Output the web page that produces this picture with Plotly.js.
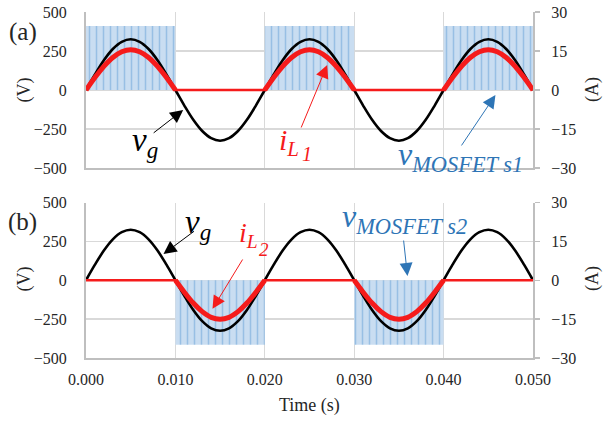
<!DOCTYPE html>
<html>
<head>
<meta charset="utf-8">
<script src="https://cdn.plot.ly/plotly-3.0.1.min.js"></script>
<style>html,body{margin:0;padding:0;background:#fff;}#chart{width:603px;height:421px;}</style>
</head>
<body>
<div id="chart"></div>
<script>
// ---- data ----
const timeS = [0.000,0.001,0.002,0.003,0.004,0.005,0.006,0.007,0.008,0.009,
  0.010,0.011,0.012,0.013,0.014,0.015,0.016,0.017,0.018,0.019,
  0.020,0.021,0.022,0.023,0.024,0.025,0.026,0.027,0.028,0.029,
  0.030,0.031,0.032,0.033,0.034,0.035,0.036,0.037,0.038,0.039,
  0.040,0.041,0.042,0.043,0.044,0.045,0.046,0.047,0.048,0.049,0.050];
// grid voltage vg (V)
const vgV = [0,100,191,263,309,325,309,263,191,100,
  0,-100,-191,-263,-309,-325,-309,-263,-191,-100,
  0,100,191,263,309,325,309,263,191,100,
  0,-100,-191,-263,-309,-325,-309,-263,-191,-100,
  0,100,191,263,309,325,309,263,191,100,0];
// inductor current iL1 (A)
const iL1A = [0,4.8,9.1,12.5,14.7,15.5,14.7,12.5,9.1,4.8,
  0,0,0,0,0,0,0,0,0,0,
  0,4.8,9.1,12.5,14.7,15.5,14.7,12.5,9.1,4.8,
  0,0,0,0,0,0,0,0,0,0,
  0,4.8,9.1,12.5,14.7,15.5,14.7,12.5,9.1,4.8,0];
// inductor current iL2 (A)
const iL2A = [0,0,0,0,0,0,0,0,0,0,
  0,-4.6,-8.8,-12.1,-14.3,-15.0,-14.3,-12.1,-8.8,-4.6,
  0,0,0,0,0,0,0,0,0,0,
  0,-4.6,-8.8,-12.1,-14.3,-15.0,-14.3,-12.1,-8.8,-4.6,
  0,0,0,0,0,0,0,0,0,0,0];
// MOSFET switching intervals and voltage envelope (V)
const mos1Start = [0.00, 0.02, 0.04];
const mos1End   = [0.01, 0.03, 0.05];
const mos1Level = [410, 410, 410];
const mos2Start = [0.01, 0.03];
const mos2End   = [0.02, 0.04];
const mos2Level = [-415, -415];
// axis ticks
const xTicks = [0, 0.01, 0.02, 0.03, 0.04, 0.05];
const vTicks = [-500, -250, 0, 250, 500];
const aTicks = [-30, -15, 0, 15, 30];

// ---- styling ----
const FONT = 'Liberation Serif';
const GRID = '#d9d9d9', AXL = '#bfbfbf', TXT = '#262626';
const RED = '#f51b1b', BLUE = '#2e75b6';

function conductionOnly(arr){
  return arr.map((v,i)=>{
    const p = i>0 ? arr[i-1] : undefined, n = i<arr.length-1 ? arr[i+1] : undefined;
    if (v===0 && (p===undefined||p===0) && (n===undefined||n===0)) return null;
    return v;
  });
}
function mosBars(start,end,level,xa,ya){
  return {type:'bar', x:start, y:level, base:0, offset:0,
    width:start.map((s,i)=>end[i]-s), xaxis:xa, yaxis:ya, showlegend:false, hoverinfo:'skip',
    marker:{color:'#c9ddf1', line:{width:0},
      pattern:{shape:'|', fgcolor:'#98bfe4', bgcolor:'#c9ddf1', size:7, solidity:0.22}}};
}

const traces = [
  mosBars(mos1Start,mos1End,mos1Level,'x','y'),
  {type:'scatter',mode:'lines',x:timeS,y:vgV,xaxis:'x',yaxis:'y',line:{color:'#000',width:2.6,shape:'spline'},showlegend:false},
  {type:'scatter',mode:'lines',x:timeS,y:iL1A,xaxis:'x',yaxis:'y2',line:{color:RED,width:2.6},showlegend:false},
  {type:'scatter',mode:'lines',x:timeS,y:conductionOnly(iL1A),xaxis:'x',yaxis:'y2',line:{color:RED,width:5,shape:'spline'},connectgaps:false,showlegend:false},

  mosBars(mos2Start,mos2End,mos2Level,'x2','y3'),
  {type:'scatter',mode:'lines',x:timeS,y:vgV,xaxis:'x2',yaxis:'y3',line:{color:'#000',width:2.6,shape:'spline'},showlegend:false},
  {type:'scatter',mode:'lines',x:timeS,y:iL2A,xaxis:'x2',yaxis:'y4',line:{color:RED,width:2.6},showlegend:false},
  {type:'scatter',mode:'lines',x:timeS,y:conductionOnly(iL2A),xaxis:'x2',yaxis:'y4',line:{color:RED,width:5,shape:'spline'},connectgaps:false,showlegend:false}
];

const L=86, R=70, T=12, B=63, W=603, H=421;
const pw = W-L-R, ph = H-T-B;
const px = v => (v-L)/pw;
const py = v => (H-B-v)/ph;

const TF = {family:FONT, size:16, color:TXT};
const xCommon = {range:[0,0.05], tickvals:xTicks, showgrid:true, gridcolor:GRID, gridwidth:1.3,
  zeroline:false, showline:true, linecolor:AXL, linewidth:2, ticks:'', fixedrange:true};
const vCommon = {range:[-500,500], tickvals:vTicks, showgrid:true, gridcolor:GRID, gridwidth:1.3,
  zeroline:false, showline:true, linecolor:AXL, linewidth:2, ticks:'', ticklabelstandoff:14,
  tickfont:TF};
const aCommon = {range:[-30,30], tickvals:aTicks, showgrid:false, zeroline:false, side:'right',
  showline:true, linecolor:AXL, linewidth:2, ticks:'outside', ticklen:5, tickcolor:AXL, tickwidth:1.5,
  ticklabelstandoff:8, tickfont:TF};

const topDom = [py(168), 1], botDom = [0, py(202.5)];

function txt(text, x, y, size, color, xa, ya){
  return {text, x:px(x), y:py(y), xref:'paper', yref:'paper', showarrow:false,
    xanchor:xa||'center', yanchor:ya||'middle', font:{family:FONT,size,color}};
}
function arrow(xr, yr, hx, hy, tx, ty, color){
  return {text:'', x:hx, y:hy, ax:tx, ay:ty, xref:xr, yref:yr, axref:xr, ayref:yr,
    showarrow:true, arrowhead:2, arrowsize:2.6, arrowwidth:1, arrowcolor:color};
}

const annotations = [
  txt('(a)', 22.5, 32, 25, TXT),
  txt('(b)', 22.5, 222, 25, TXT),
  {...txt('(V)', 23.5, 90, 18, TXT), textangle:-90},
  {...txt('(V)', 23.5, 279, 18, TXT), textangle:-90},
  {...txt('(A)', 592, 90, 18, TXT), textangle:-90},
  {...txt('(A)', 592, 279, 18, TXT), textangle:-90},
  txt('Time (s)', 309.5, 405, 18, TXT),
  // top panel labels
  txt('<i>v</i><sub><i>g</i></sub>', 130, 142, 33, '#000', 'left'),
  txt('<i>i</i><sub><i>L</i></sub>', 277, 142, 30, RED, 'left'),
  txt('<i>1</i>', 300, 154, 20, RED, 'left'),
  txt('<i>v</i><sub><i>MOSFET s1</i></sub>', 396, 156, 32, BLUE, 'left'),
  arrow('x','y', 0.01087, -128, 0.0074, -282, '#000'),
  arrow('x','y', 0.02698, 160, 0.0240, -250, RED),
  arrow('x','y', 0.0458, -32, 0.04189, -365, BLUE),
  // bottom panel labels
  txt('<i>v</i><sub><i>g</i></sub>', 183, 225, 33, '#000', 'left'),
  txt('<i>i</i><sub><i>L</i></sub>', 237, 234, 28, RED, 'left'),
  txt('<i>2</i>', 257, 249, 19, RED, 'left'),
  txt('<i>v</i><sub><i>MOSFET s2</i></sub>', 340, 218, 32, BLUE, 'left'),
  arrow('x2','y3', 0.00867, 169, 0.01225, 322, '#000'),
  arrow('x2','y3', 0.01415, -184, 0.01762, 143, RED),
  arrow('x2','y3', 0.03596, 28, 0.03551, 265, BLUE)
];

const layout = {
  width:W, height:H, margin:{l:L, r:R, t:T, b:B},
  paper_bgcolor:'#fff', plot_bgcolor:'#fff', showlegend:false,
  font:{family:FONT, size:16, color:TXT},
  barmode:'overlay',
  xaxis:{...xCommon, domain:[0,1], anchor:'y', showticklabels:false},
  yaxis:{...vCommon, domain:topDom, anchor:'x'},
  yaxis2:{...aCommon, overlaying:'y', anchor:'x'},
  xaxis2:{...xCommon, domain:[0,1], anchor:'y3', showticklabels:true, tickformat:'.3f',
    ticklabelstandoff:6, tickfont:TF},
  yaxis3:{...vCommon, domain:botDom, anchor:'x2'},
  yaxis4:{...aCommon, overlaying:'y3', anchor:'x2'},
  annotations
};

Plotly.newPlot('chart', traces, layout, {staticPlot:true, displayModeBar:false});
</script>
</body>
</html>
